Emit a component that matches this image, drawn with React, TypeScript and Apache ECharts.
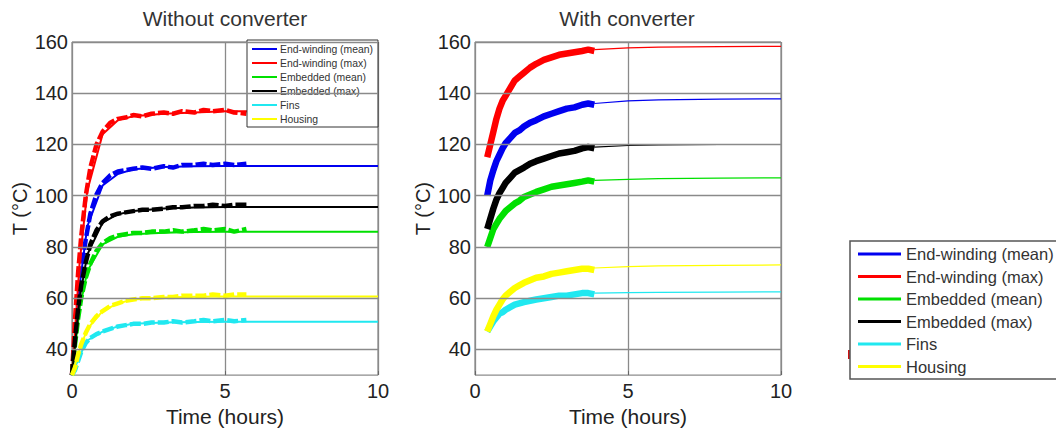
import React, { useEffect, useRef } from "react";
import * as echarts from "echarts";

// ---------- labels ----------
const names = [
  "End-winding (mean)",
  "End-winding (max)",
  "Embedded (mean)",
  "Embedded (max)",
  "Fins",
  "Housing",
];
const colors = ["#0000f0", "#ff0000", "#00e000", "#000000", "#20e8f0", "#ffff00"];
const yTicks = [40, 60, 80, 100, 120, 140, 160];
const titles = ["Without converter", "With converter"];

// ---------- Without converter: measured (hours) ----------
const tMeasA = [0, 0.1, 0.2, 0.3, 0.45, 0.6, 0.8, 1.0, 1.25, 1.5, 1.75, 2.0, 2.3, 2.6, 3.0, 3.3, 3.6, 4.0, 4.3, 4.6, 5.0, 5.3, 5.7];
const measA_ewMean = [30, 46, 60, 71, 83, 93, 100.5, 105, 108, 109.5, 110, 110.5, 111, 110.5, 111.5, 111, 112, 112, 112.5, 112, 112.5, 112, 112.5];
const measA_ewMax = [30, 52, 70, 84, 100, 111, 120, 125, 128.5, 130, 130.5, 131.5, 131, 132, 132.5, 132, 133, 132.5, 133.5, 133, 133.5, 132.5, 132];
const measA_embMean = [30, 42, 52, 60, 68, 73.5, 78.5, 81.5, 83.5, 84.5, 85, 85.5, 85.5, 86, 86, 86.5, 86, 86.5, 87, 86.5, 87, 86, 87];
const measA_embMax = [30, 44, 56, 65, 74, 81, 86.5, 90, 92, 93, 93.5, 94, 94.5, 94.5, 95, 95.5, 95.5, 96, 96, 96.5, 96, 96.5, 96.5];
const measA_fins = [30, 32, 35.5, 39, 42.5, 44.5, 46, 47, 48, 49, 49.5, 50, 50, 50.5, 50.5, 51, 50.5, 51, 51.5, 51, 51.5, 51, 51.5];
const measA_housing = [30, 33, 38, 42, 46.5, 50, 53, 55, 57, 58, 59, 59.5, 60, 60, 60.5, 60.5, 61, 61, 61, 61.5, 61, 61.5, 61.5];

// ---------- Without converter: simulated ----------
const tSimA = [0, 0.25, 0.5, 1, 1.5, 2, 3, 4, 5, 6, 8, 10];
const simA_ewMean = [30, 65, 88, 104, 108.5, 110.3, 111.2, 111.5, 111.6, 111.6, 111.6, 111.6];
const simA_ewMax = [30, 74, 102, 124, 129.5, 131, 132, 132.5, 133, 133, 133, 133];
const simA_embMean = [30, 56, 70.5, 81, 84, 85, 85.6, 85.8, 85.9, 85.9, 85.9, 85.9];
const simA_embMax = [30, 60, 77, 89.5, 92.8, 94, 95, 95.4, 95.6, 95.6, 95.6, 95.6];
const simA_fins = [30, 37.5, 43.5, 47, 49, 50, 50.5, 50.7, 50.8, 50.8, 50.8, 50.8];
const simA_housing = [30, 40, 48, 55, 58, 59.5, 60.3, 60.6, 60.7, 60.7, 60.7, 60.7];

// ---------- With converter: measured ----------
const tMeasB = [0.4, 0.5, 0.6, 0.7, 0.8, 0.9, 1.0, 1.15, 1.3, 1.45, 1.6, 1.8, 2.0, 2.25, 2.5, 2.75, 3.0, 3.25, 3.5, 3.7, 3.9];
const measB_ewMean = [100, 106, 110, 113.5, 116, 118.5, 120.5, 122.5, 124.5, 125.5, 127, 128.5, 129.5, 131, 132, 133, 134, 134.5, 135.5, 136, 135.5];
const measB_ewMax = [115, 120, 125, 130, 134, 137, 139, 142, 145, 146.5, 148, 150, 151.5, 153, 154, 155, 155.5, 156, 156.5, 157, 156.5];
const measB_embMean = [80, 83.5, 87, 89, 91, 92.5, 94, 95.5, 97, 98, 99.5, 100.5, 101.5, 102.5, 103.5, 104, 104.5, 105, 105.5, 106, 105.5];
const measB_embMax = [87, 91, 95, 98.5, 101, 103, 105, 107, 109, 110, 111, 112.5, 113.5, 114.5, 115.5, 116.5, 117, 117.5, 118.5, 119, 118.5];
const measB_fins = [47, 49, 51, 52.5, 54, 54.5, 55.5, 56.5, 57.5, 58, 58.5, 59, 59.5, 60, 60.5, 61, 61, 61.5, 62, 62, 61.5];
const measB_housing = [47, 50, 53, 55.5, 57.5, 59.5, 61, 62.5, 64, 65, 66, 67, 68, 68.5, 69.5, 70, 70.5, 71, 71.5, 71.5, 71];

// ---------- With converter: simulated ----------
const tSimB = [3.9, 5, 6, 8, 10];
const simB_ewMean = [136, 137, 137.4, 137.7, 137.8];
const simB_ewMax = [157, 157.7, 158, 158.2, 158.3];
const simB_embMean = [106, 106.4, 106.7, 106.9, 107];
const simB_embMax = [119, 119.6, 119.8, 120, 120];
const simB_fins = [62, 62.2, 62.3, 62.4, 62.5];
const simB_housing = [71.8, 72.3, 72.6, 72.8, 73];

const measA = [measA_ewMean, measA_ewMax, measA_embMean, measA_embMax, measA_fins, measA_housing];
const simA = [simA_ewMean, simA_ewMax, simA_embMean, simA_embMax, simA_fins, simA_housing];
const measB = [measB_ewMean, measB_ewMax, measB_embMean, measB_embMax, measB_fins, measB_housing];
const simB = [simB_ewMean, simB_ewMax, simB_embMean, simB_embMax, simB_fins, simB_housing];

const zip = (t: number[], v: number[]) => t.map((x, i) => [x, v[i]]);
const FONT = "Liberation Sans, Arial, sans-serif";

export default function App() {
  const ref = useRef<HTMLDivElement>(null);

  useEffect(() => {
    if (!ref.current) return;
    const chart = echarts.init(ref.current, undefined, { renderer: "svg" });

    const grids = [
      { left: 72, top: 42, width: 306, height: 340 },
      { left: 475, top: 42, width: 306, height: 339 },
    ];

    const xAxes = grids.map((_, i) => ({
      type: "value",
      gridIndex: i,
      min: 0,
      max: 10,
      interval: 5,
      name: "Time (hours)",
      nameLocation: "middle",
      nameGap: 24,
      nameTextStyle: { fontFamily: FONT, fontSize: 21, color: "#222" },
      axisLine: { show: false },
      axisTick: { show: true, inside: true, length: 4, lineStyle: { color: "#666" } },
      axisLabel: { fontFamily: FONT, fontSize: 20, color: "#222", margin: 6 },
      splitLine: { show: true, lineStyle: { color: "#8a8a8a", width: 1.3 } },
    }));

    const yAxes = grids.map((_, i) => ({
      type: "value",
      gridIndex: i,
      min: 30,
      max: 160,
      name: "T (\u00B0C)",
      nameLocation: "middle",
      nameGap: 42,
      nameTextStyle: { fontFamily: FONT, fontSize: 20, color: "#222" },
      axisLine: { show: false },
      axisTick: { show: true, inside: true, length: 4, customValues: yTicks, lineStyle: { color: "#666" } },
      axisLabel: { fontFamily: FONT, fontSize: 20, color: "#222", margin: 4, customValues: yTicks },
      splitLine: { show: false },
    }));

    const series: any[] = [];
    [0, 1].forEach((g) => {
      series.push({
        type: "line",
        name: "_grid" + g,
        xAxisIndex: g,
        yAxisIndex: g,
        data: [],
        z: 1,
        silent: true,
        markLine: {
          silent: true,
          symbol: "none",
          label: { show: false },
          lineStyle: { color: "#8a8a8a", type: "solid", width: 1.3 },
          data: yTicks.map((v) => ({ yAxis: v })),
        },
      });
    });

    names.forEach((n, k) => {
      series.push({
        type: "line",
        name: n,
        xAxisIndex: 0,
        yAxisIndex: 0,
        color: colors[k],
        data: zip(tSimA, simA[k]),
        showSymbol: false,
        lineStyle: { width: 2, color: colors[k] },
        z: 3,
      });
      series.push({
        type: "line",
        name: n,
        xAxisIndex: 0,
        yAxisIndex: 0,
        color: colors[k],
        data: zip(tMeasA, measA[k]),
        showSymbol: false,
        lineStyle: { width: 4.5, color: colors[k], type: [11, 3] },
        z: 3,
      });
      series.push({
        type: "line",
        name: n,
        xAxisIndex: 1,
        yAxisIndex: 1,
        color: colors[k],
        data: zip(tSimB, simB[k]),
        showSymbol: false,
        lineStyle: { width: 1.2, color: colors[k] },
        z: 3,
      });
      series.push({
        type: "line",
        name: n,
        xAxisIndex: 1,
        yAxisIndex: 1,
        color: colors[k],
        data: zip(tMeasB, measB[k]),
        showSymbol: false,
        lineStyle: { width: 6.5, color: colors[k] },
        z: 3,
      });
    });

    const legendData = names.map((n, k) => ({ name: n, itemStyle: { color: colors[k] } }));

    chart.setOption({
      animation: false,
      backgroundColor: "#ffffff",
      grid: grids.map((g) => ({ ...g, show: true, borderColor: "#707070", borderWidth: 1, containLabel: false })),
      xAxis: xAxes,
      yAxis: yAxes,
      legend: [
        {
          data: legendData,
          orient: "vertical",
          left: 247,
          top: 40,
          icon: "rect",
          itemWidth: 25,
          itemHeight: 2,
          itemGap: 2,
          padding: [3, 5, 2, 5],
          backgroundColor: "#ffffff",
          borderColor: "#333",
          borderWidth: 1,
          borderRadius: 0,
          selectedMode: false,
          textStyle: { fontFamily: FONT, fontSize: 10.4, color: "#333", lineHeight: 12, padding: [0, 0, 0, -2] },
        },
        {
          data: legendData,
          orient: "vertical",
          left: 850,
          top: 241,
          icon: "rect",
          itemWidth: 43,
          itemHeight: 3,
          itemGap: 4.5,
          padding: [4, 6, 3.5, 8],
          backgroundColor: "#ffffff",
          borderColor: "#555",
          borderWidth: 1.5,
          borderRadius: 0,
          selectedMode: false,
          textStyle: { fontFamily: FONT, fontSize: 16.5, color: "#333", lineHeight: 18 },
        },
      ],
      graphic: [
        {
          type: "text",
          x: 225,
          y: 18,
          style: { text: titles[0], font: "21px " + FONT, fill: "#333", align: "center", verticalAlign: "middle" },
        },
        {
          type: "text",
          x: 627,
          y: 18,
          style: { text: titles[1], font: "21px " + FONT, fill: "#333", align: "center", verticalAlign: "middle" },
        },
        {
          type: "rect",
          shape: { x: 848, y: 350, width: 2.5, height: 9 },
          style: { fill: "#cc1111" },
        },
      ],
      series,
    });

    return () => chart.dispose();
  }, []);

  return (
    <div
      ref={ref}
      style={{ position: "fixed", left: 0, top: 0, width: 1056, height: 432, background: "#fff" }}
    />
  );
}
